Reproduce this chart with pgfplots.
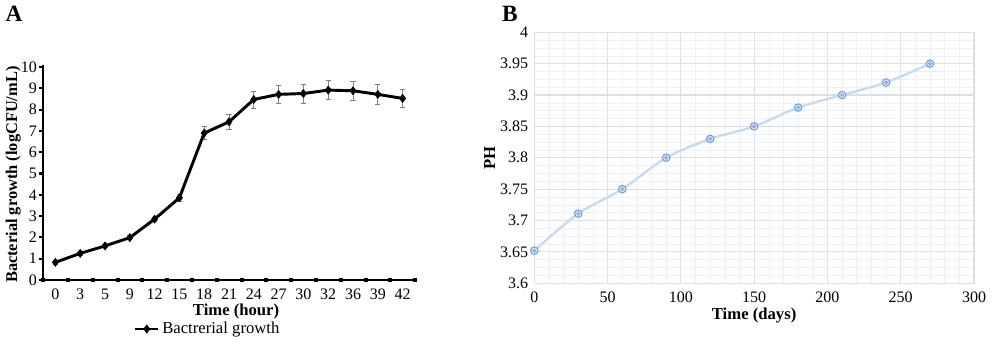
\documentclass[border=0pt]{standalone}
\usepackage{fontspec}
\setmainfont{Liberation Serif}
\usepackage{pgfplots}
\pgfplotsset{compat=1.18}
\definecolor{phline}{HTML}{C6DBF2}
\definecolor{phmark}{HTML}{6F9FD8}
\definecolor{gridc}{HTML}{D9E1E6}
\definecolor{gridm}{HTML}{EDF1F4}
\begin{document}
\begin{tikzpicture}[x=0.75pt,y=0.75pt]
\useasboundingbox (0,0) rectangle (1000,345);
\node[font=\bfseries\fontsize{17.5}{20}\selectfont] at (14,331) {A};
\node[font=\bfseries\fontsize{17.5}{20}\selectfont] at (510,331) {B};
% Panel A
\begin{axis}[
  at={(32.25pt,48.75pt)}, anchor=south west, scale only axis,
  width=279pt, height=161.25pt,
  xmin=-0.5, xmax=14.5, ymin=0, ymax=10.1,
  axis x line=bottom, axis y line=left,
  axis line style={line width=2pt, -},
  clip=false,
  xtick={0,...,14},
  xticklabels={0,3,5,9,12,15,18,21,24,27,30,32,36,39,42},
  x tick style={draw=none},
  xticklabel style={yshift=0pt},
  ytick={0,...,10},
  y tick style={line width=1.6pt, black},
  tick align=outside, major tick length=3pt,
  yticklabel style={xshift=2pt},
  tick label style={font=\fontsize{12}{14}\selectfont},
  /pgf/number format/assume math mode=true,
  xlabel={\textbf{Time (hour)}},
  xlabel style={font=\bfseries\fontsize{12.5}{14}\selectfont,
    at={(axis description cs:0.519,-0.146)}, anchor=center},
  ylabel={\textbf{Bacterial growth (logCFU/mL)}},
  ylabel style={font=\bfseries\fontsize{12.3}{14}\selectfont,
    at={(axis description cs:-0.08,0.49)}, anchor=center},
  legend style={at={(0.4435,-0.228)}, anchor=center, draw=none, fill=none,
    font=\fontsize{12.5}{14}\selectfont, inner sep=0pt},
  legend cell align=left,
]
\addplot[only marks, mark=square*, mark size=1.1pt, black, forget plot] coordinates {
(-0.5,0) (0.5,0) (1.5,0) (2.5,0) (3.5,0) (4.5,0) (5.5,0) (6.5,0) (7.5,0)
(8.5,0) (9.5,0) (10.5,0) (11.5,0) (12.5,0) (13.5,0) (14.5,0)};
\addplot[draw=none, forget plot, error bars/.cd, y dir=both, y explicit,
  error bar style={gray, line width=0.6pt},
  error mark options={rotate=90, gray, mark size=2pt, line width=0.6pt}]
coordinates {
(0,0.83) +- (0,0.08)
(1,1.25) +- (0,0.08)
(2,1.60) +- (0,0.08)
(3,1.99) +- (0,0.1)
(4,2.86) +- (0,0.1)
(5,3.86) +- (0,0.15)
(6,6.90) +- (0,0.3)
(7,7.43) +- (0,0.35)
(8,8.48) +- (0,0.4)
(9,8.72) +- (0,0.42)
(10,8.76) +- (0,0.45)
(11,8.92) +- (0,0.45)
(12,8.89) +- (0,0.45)
(13,8.72) +- (0,0.45)
(14,8.53) +- (0,0.4)
};
\addplot[black, line width=2.2pt, mark=diamond*, mark size=3pt, mark options={line width=0.5pt}] coordinates {
(0,0.83) (1,1.25) (2,1.60) (3,1.99) (4,2.86) (5,3.86) (6,6.90) (7,7.43)
(8,8.48) (9,8.72) (10,8.76) (11,8.92) (12,8.89) (13,8.72) (14,8.53)};
\addlegendentry{Bactrerial growth}
\end{axis}
% Panel B
\begin{axis}[
  at={(400.7pt,46.3pt)}, anchor=south west, scale only axis,
  width=329.8pt, height=188.25pt,
  xmin=0, xmax=300, ymin=3.6, ymax=4,
  xtick={0,50,100,150,200,250,300},
  ytick={3.6,3.65,3.7,3.75,3.8,3.85,3.9,3.95,4},
  minor x tick num=4, minor y tick num=3,
  grid=both,
  major grid style={draw=gridc, line width=0.8pt},
  minor grid style={draw=gridm, line width=0.4pt},
  axis line style={draw=gridc, line width=0.8pt},
  tick style={draw=none},
  tick label style={font=\fontsize{12}{14}\selectfont},
  /pgf/number format/assume math mode=true,
  yticklabel style={/pgf/number format/fixed, /pgf/number format/precision=2, xshift=-1pt},
  xticklabel style={yshift=-3pt},
  xlabel={\textbf{Time (days)}},
  xlabel style={font=\bfseries\fontsize{12.5}{14}\selectfont, yshift=3pt},
  ylabel={\textbf{PH}},
  ylabel style={font=\bfseries\fontsize{12.5}{14}\selectfont, yshift=-3pt},
  clip=false,
]
\addplot[phline, line width=1.8pt, smooth, mark=*, mark size=2.8pt,
  mark options={fill=phline!60, draw=phmark, line width=0.8pt}] coordinates {
(0,3.652) (30,3.711) (60,3.750) (90,3.800) (120,3.830) (150,3.850)
(180,3.880) (210,3.900) (240,3.920) (270,3.950)};
\addplot[only marks, mark=o, mark size=1.1pt, mark options={draw=phmark, line width=0.6pt}] coordinates {
(0,3.652) (30,3.711) (60,3.750) (90,3.800) (120,3.830) (150,3.850)
(180,3.880) (210,3.900) (240,3.920) (270,3.950)};
\end{axis}
\end{tikzpicture}
\end{document}
